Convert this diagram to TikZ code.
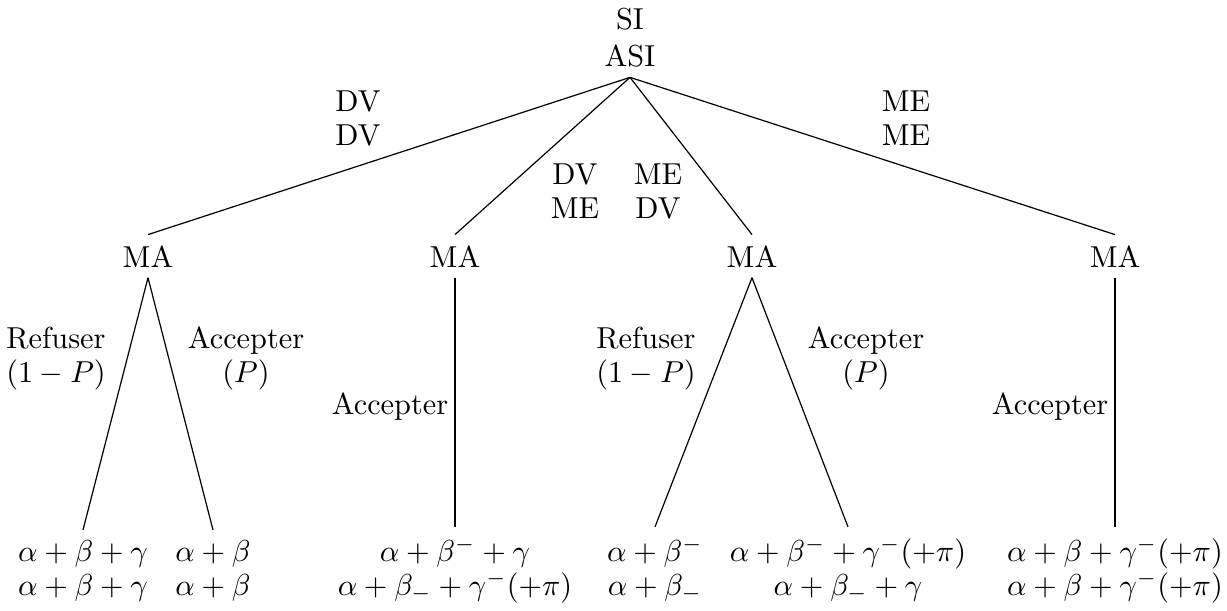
\documentclass[tikz,border=0pt]{standalone}
\begin{document}
\begin{tikzpicture}[x=0.33pt,y=-0.33pt,
  lbl/.style={align=center,anchor=base,inner sep=0pt},
  ma/.style={anchor=base},
  leaf/.style={align=center,anchor=base},
  edge/.style={draw=black,line width=0.4pt}]
\useasboundingbox (0,0) rectangle (1227,610);
% root (base anchor = baseline of last line)
\node[align=center,anchor=base] (root) at (630,66) {SI\\ASI};
% MA nodes
\node[ma] (m1) at (148,267) {MA};
\node[ma] (m2) at (455,267) {MA};
\node[ma] (m3) at (752,267) {MA};
\node[ma] (m4) at (1115,267) {MA};
% leaves
\node[leaf] (f1) at (83,595) {$\alpha+\beta+\gamma$\\[-1pt]$\alpha+\beta+\gamma$};
\node[leaf] (f2) at (213,595) {$\alpha+\beta$\\[-1pt]$\alpha+\beta$};
\node[leaf] (f3) at (455,595) {$\alpha+\beta^-+\gamma$\\[-1pt]$\alpha+\beta_-+\gamma^-(+\pi)$};
\node[leaf] (f4) at (655,595) {$\alpha+\beta^-$\\[-1pt]$\alpha+\beta_-$};
\node[leaf] (f5) at (848,595) {$\alpha+\beta^-+\gamma^-(+\pi)$\\[-1pt]$\alpha+\beta_-+\gamma$};
\node[leaf] (f6) at (1115,595) {$\alpha+\beta+\gamma^-(+\pi)$\\[-1pt]$\alpha+\beta+\gamma^-(+\pi)$};
% edge labels
\node[lbl] (t1) at (358,145) {DV\\[-1pt]DV};
\node[lbl] (t2) at (575,218) {DV\\[-1pt]ME};
\node[lbl] (t3) at (658,218) {ME\\[-1pt]DV};
\node[lbl] (t4) at (906,145) {ME\\[-1pt]ME};
\node[lbl] (r1) at (56,382) {Refuser\\[-1pt]$(1-P)$};
\node[lbl] (a1) at (246,382) {Accepter\\[-1pt]$(P)$};
\node[lbl] (a2) at (390,414) {Accepter};
\node[lbl] (r3) at (646,382) {Refuser\\[-1pt]$(1-P)$};
\node[lbl] (a3) at (866,382) {Accepter\\[-1pt]$(P)$};
\node[lbl] (a4) at (1050,414) {Accepter};
% connectors
\draw[edge] (root.south) -- (m1.north);
\draw[edge] (root.south) -- (m2.north);
\draw[edge] (root.south) -- (m3.north);
\draw[edge] (root.south) -- (m4.north);
\draw[edge] (m1.south) -- (f1.north);
\draw[edge] (m1.south) -- (f2.north);
\draw[edge] (m2.south) -- (f3.north);
\draw[edge] (m3.south) -- (f4.north);
\draw[edge] (m3.south) -- (f5.north);
\draw[edge] (m4.south) -- (f6.north);
\end{tikzpicture}
\end{document}
